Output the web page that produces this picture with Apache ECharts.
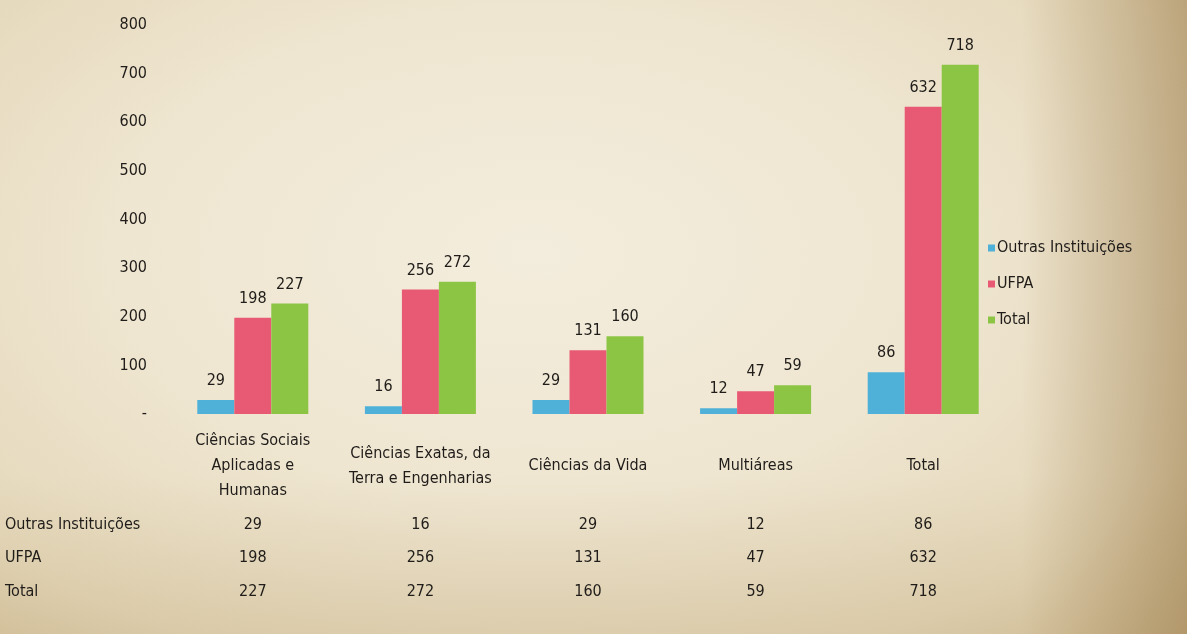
<!DOCTYPE html>
<html>
<head>
<meta charset="utf-8">
<script src="https://cdn.jsdelivr.net/npm/echarts@6/dist/echarts.min.js"></script>
<style>
  html, body { margin: 0; padding: 0; }
  #chart {
    width: 1187px; height: 634px;
    background:
      linear-gradient(to right, rgba(150,120,70,0) 86%, rgba(150,118,68,0.5) 100%),
      linear-gradient(to bottom, rgba(150,120,70,0) 75%, rgba(170,140,90,0.18) 100%),
      radial-gradient(ellipse at 45% 40%, #f3eddd 0%, #efe6d1 45%, #e4d7b9 80%, #d6c49e 100%);
  }
</style>
</head>
<body>
<div id="chart"></div>
<script>
///////////////////////////////////////////////////
// Data
///////////////////////////////////////////////////
var categories = [
  'Ciências Sociais\nAplicadas e\nHumanas',
  'Ciências Exatas, da\nTerra e Engenharias',
  'Ciências da Vida',
  'Multiáreas',
  'Total'
];
var seriesNames = ['Outras Instituições', 'UFPA', 'Total'];
var outras = [29, 16, 29, 12, 86];
var ufpa = [198, 256, 131, 47, 632];
var total = [227, 272, 160, 59, 718];
var colors = ['#4fb0d8', '#e85a73', '#8cc444'];

var font = '"Liberation Sans Narrow", "DejaVu Sans Condensed", "Roboto Condensed", sans-serif';
var textColor = '#1f1c19';

// one hidden x axis per table row, showing the values as labels
function tableAxis(name, values, offset) {
  return {
    type: 'category',
    data: values.map(String),
    position: 'bottom',
    offset: offset,
    axisLine: { show: false },
    axisTick: { show: false },
    axisLabel: {
      margin: 0,
      verticalAlign: 'middle',
      color: textColor,
      fontFamily: font,
      fontSize: 16
    },
    name: name,
    nameLocation: 'start',
    nameGap: 164,
    nameTextStyle: {
      align: 'left',
      verticalAlign: 'middle',
      color: textColor,
      fontFamily: font,
      fontSize: 16
    }
  };
}

function barSeries(i, data) {
  return {
    name: seriesNames[i],
    type: 'bar',
    data: data,
    barWidth: 37,
    barGap: '0%',
    itemStyle: { color: colors[i] },
    label: {
      show: true,
      position: 'top',
      distance: 11,
      color: textColor,
      fontFamily: font,
      fontSize: 16
    }
  };
}

var chart = echarts.init(document.getElementById('chart'), null, { renderer: 'canvas' });

chart.setOption({
  backgroundColor: 'transparent',
  animation: false,
  textStyle: { fontFamily: font },
  grid: { left: 169, right: 180, top: 25, bottom: 220 },
  legend: {
    orient: 'vertical',
    left: 983,
    top: 235,
    itemWidth: 7,
    itemHeight: 7,
    itemGap: 20,
    icon: 'rect',
    textStyle: { color: textColor, fontFamily: font, fontSize: 16, padding: [0, 0, 0, -3] },
    data: seriesNames
  },
  xAxis: [
    {
      type: 'category',
      data: categories,
      axisLine: { show: false },
      axisTick: { show: false },
      axisLabel: {
        interval: 0,
        margin: 52,
        verticalAlign: 'middle',
        lineHeight: 25,
        color: textColor,
        fontFamily: font,
        fontSize: 16
      }
    },
    tableAxis('Outras Instituições', outras, 111),
    tableAxis('UFPA', ufpa, 144),
    tableAxis('Total', total, 178)
  ],
  yAxis: {
    type: 'value',
    min: 0,
    max: 800,
    interval: 100,
    axisLine: { show: false },
    axisTick: { show: false },
    splitLine: { show: false },
    axisLabel: {
      margin: 22,
      color: textColor,
      fontFamily: font,
      fontSize: 16,
      formatter: function (v) { return v === 0 ? '-' : String(v); }
    }
  },
  series: [
    barSeries(0, outras),
    barSeries(1, ufpa),
    barSeries(2, total)
  ]
});
</script>
</body>
</html>
